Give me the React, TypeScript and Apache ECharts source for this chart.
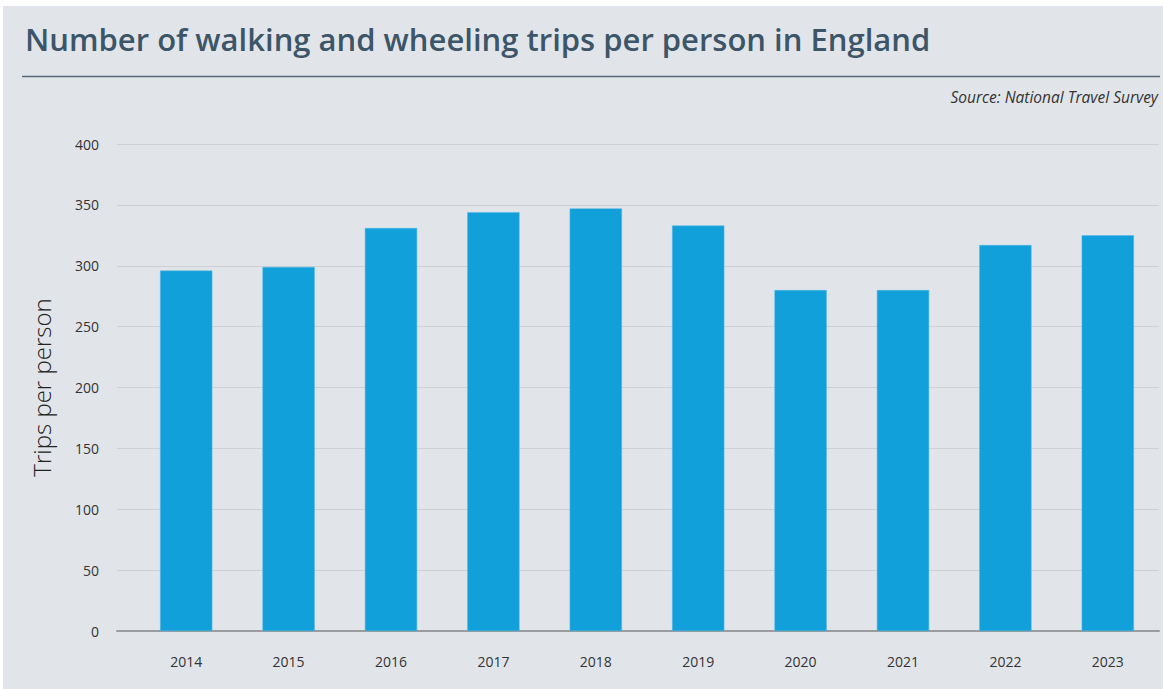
import React, { useEffect, useRef } from "react";
import * as echarts from "echarts";

const years = ["2014", "2015", "2016", "2017", "2018", "2019", "2020", "2021", "2022", "2023"];
const trips = [296, 299, 331, 344, 347, 333, 280, 280, 317, 325];
const yTicks = { min: 0, max: 400, interval: 50 };

const TITLE = "Number of walking and wheeling trips per person in England";
const SOURCE = "Source: National Travel Survey";
const Y_NAME = "Trips per person";

export default function App() {
  const ref = useRef<HTMLDivElement>(null);
  useEffect(() => {
    if (!ref.current) return;
    const chart = echarts.init(ref.current, null, { renderer: "svg" });
    const font = "'Open Sans', Lato, sans-serif";
    chart.setOption({
      animation: false,
      backgroundColor: "#ffffff",
      textStyle: { fontFamily: font },
      graphic: [
        { type: "rect", z: -10, shape: { x: 3, y: 6, width: 1160, height: 683 }, style: { fill: "#e1e5ea" } },
        { type: "text", left: 25, top: 23, style: { text: TITLE, font: `600 31px ${font}`, fill: "#3d5568" } },
        { type: "line", shape: { x1: 22, y1: 76.5, x2: 1160, y2: 76.5 }, style: { stroke: "#56697a", lineWidth: 1.5 } },
        { type: "text", right: 5, top: 89, style: { text: SOURCE, font: `italic 15.5px ${font}`, fill: "#333333" } },
      ],
      grid: [
        { left: 117, right: 4, top: 144, bottom: 58 },
        { left: 135, right: 4, top: 144, bottom: 58 },
      ],
      xAxis: [
        {
          gridIndex: 0, type: "value", min: 0, max: 1,
          axisLine: { show: true, lineStyle: { color: "#9a9ca0", width: 2 } },
          axisTick: { show: false }, axisLabel: { show: false }, splitLine: { show: false },
        },
        {
          gridIndex: 1, type: "category", data: years,
          axisLine: { show: false }, axisTick: { show: false },
          axisLabel: { color: "#333333", fontSize: 14, margin: 23, fontFamily: font },
        },
      ],
      yAxis: [
        {
          gridIndex: 0, type: "value", ...yTicks,
          name: Y_NAME, nameLocation: "middle", nameGap: 64, nameRotate: 90,
          nameTextStyle: { fontSize: 24, color: "#222222", fontFamily: font, fontWeight: 300 },
          axisLine: { show: false }, axisTick: { show: false },
          axisLabel: { color: "#333333", fontSize: 14, margin: 18, fontFamily: font },
          splitLine: { lineStyle: { color: "#cdd1d6", width: 1 } },
        },
        {
          gridIndex: 1, type: "value", ...yTicks, show: false, splitLine: { show: false },
        },
      ],
      series: [
        {
          type: "bar", xAxisIndex: 1, yAxisIndex: 1, data: trips, barWidth: "51%",
          itemStyle: { color: "#12a0db", borderColor: "#4bb6e4", borderWidth: 0.5 },
        },
      ],
    });
    return () => chart.dispose();
  }, []);
  return <div ref={ref} style={{ position: "fixed", left: 0, top: 0, width: 1163, height: 689 }} />;
}
